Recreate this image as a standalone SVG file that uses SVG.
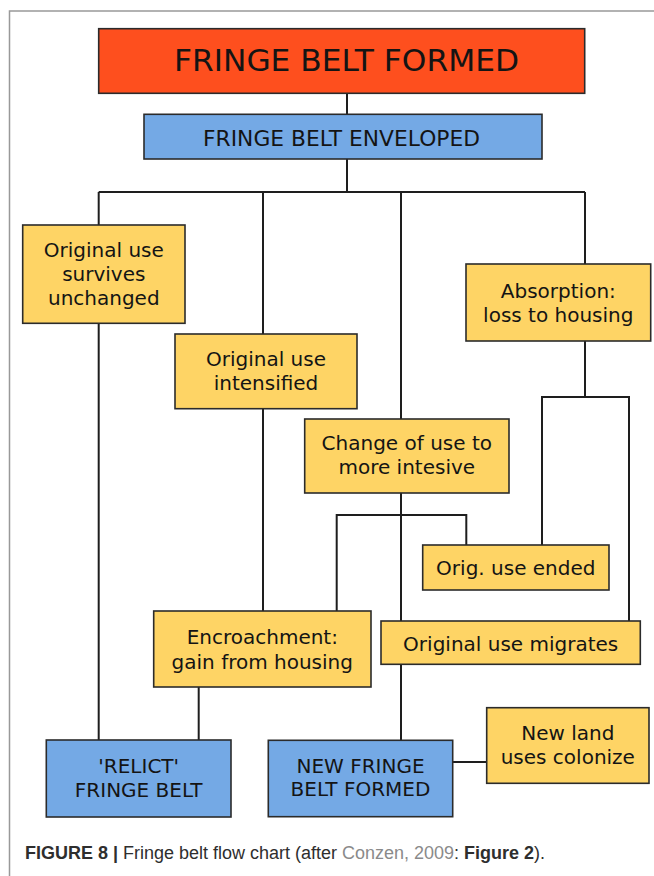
<svg xmlns="http://www.w3.org/2000/svg" width="654" height="876" viewBox="0 0 654 876">
<style>
.box{stroke:#2b2b2b;stroke-width:1.6}
.red{fill:#FE4F1E}
.blue{fill:#74A9E5}
.yel{fill:#FED465}
.t{font-family:"DejaVu Sans","Verdana",sans-serif;font-size:20px;fill:#141414;text-anchor:middle}
.conn{stroke:#1e1e1e;stroke-width:2;fill:none}
.cap{font-family:"Liberation Sans",Arial,sans-serif;font-size:18px;fill:#2e2e2e}
</style>
<rect width="654" height="876" fill="#ffffff"/>
<path d="M9.5,876 V11 H654" fill="none" stroke="#999" stroke-width="1.5"/>
<g id="connectors" class="conn">
<path d="M347,93 V114"/>
<path d="M347,159 V192"/>
<path d="M98.7,192 H585"/>
<path d="M98.7,192 V225"/>
<path d="M263,192 V334"/>
<path d="M401,192 V419"/>
<path d="M585,192 V264"/>
<path d="M585,341 V397"/>
<path d="M542,545 V397 H629 V621"/>
<path d="M401,493 V740"/>
<path d="M336.7,611 V515 H466.3 V545"/>
<path d="M263,408.7 V611"/>
<path d="M98.7,323 V740"/>
<path d="M198.7,687 V740"/>
<path d="M452.7,762 H486.7"/>
</g>
<g id="n-formed"><rect class="box red" x="98.7" y="28.7" width="486" height="64.6"/><text class="t" x="346.5" y="71" style="font-size:30px" textLength="345" lengthAdjust="spacingAndGlyphs">FRINGE BELT FORMED</text></g>
<g id="n-enveloped"><rect class="box blue" x="144" y="114.3" width="398" height="44.7"/><text class="t" x="341.5" y="146" style="font-size:21px" textLength="277" lengthAdjust="spacingAndGlyphs">FRINGE BELT ENVELOPED</text></g>
<g id="n-survives"><rect class="box yel" x="22.7" y="225" width="162.3" height="98.3"/><text class="t" x="103.8" y="256.5">Original use</text><text class="t" x="103.8" y="280.5">survives</text><text class="t" x="103.8" y="304.5">unchanged</text></g>
<g id="n-intensified"><rect class="box yel" x="175" y="334" width="182" height="74.7"/><text class="t" x="266" y="366">Original use</text><text class="t" x="266" y="390">intensified</text></g>
<g id="n-absorption"><rect class="box yel" x="466" y="264" width="184.7" height="77"/><text class="t" x="558.3" y="297.5">Absorption:</text><text class="t" x="558.3" y="322">loss to housing</text></g>
<g id="n-change"><rect class="box yel" x="304.7" y="419" width="204.3" height="74"/><text class="t" x="406.8" y="450">Change of use to</text><text class="t" x="406.8" y="474">more intesive</text></g>
<g id="n-ended"><rect class="box yel" x="422.7" y="545" width="186.3" height="45"/><text class="t" x="515.8" y="575">Orig. use ended</text></g>
<g id="n-encroachment"><rect class="box yel" x="153.7" y="611" width="217.3" height="76"/><text class="t" x="262.3" y="644.3">Encroachment:</text><text class="t" x="262.3" y="668.5">gain from housing</text></g>
<g id="n-migrates"><rect class="box yel" x="381" y="621" width="259.3" height="43.3"/><text class="t" x="510.7" y="650.5">Original use migrates</text></g>
<g id="n-relict"><rect class="box blue" x="46.3" y="740" width="184.7" height="77"/><text class="t" x="138.7" y="772.5">'RELICT'</text><text class="t" x="138.7" y="796.5">FRINGE BELT</text></g>
<g id="n-newbelt"><rect class="box blue" x="268.3" y="740.3" width="184.4" height="76.4"/><text class="t" x="360.5" y="772.5">NEW FRINGE</text><text class="t" x="360.5" y="796">BELT FORMED</text></g>
<g id="n-newland"><rect class="box yel" x="486.7" y="707.7" width="162.3" height="75.6"/><text class="t" x="567.8" y="739.5">New land</text><text class="t" x="567.8" y="763.5">uses colonize</text></g>
<text class="cap" x="25" y="859" textLength="520" lengthAdjust="spacingAndGlyphs"><tspan font-weight="bold">FIGURE 8 |</tspan> Fringe belt flow chart (after <tspan fill="#8a8a8a">Conzen, 2009</tspan>: <tspan font-weight="bold">Figure 2</tspan>).</text>
</svg>
